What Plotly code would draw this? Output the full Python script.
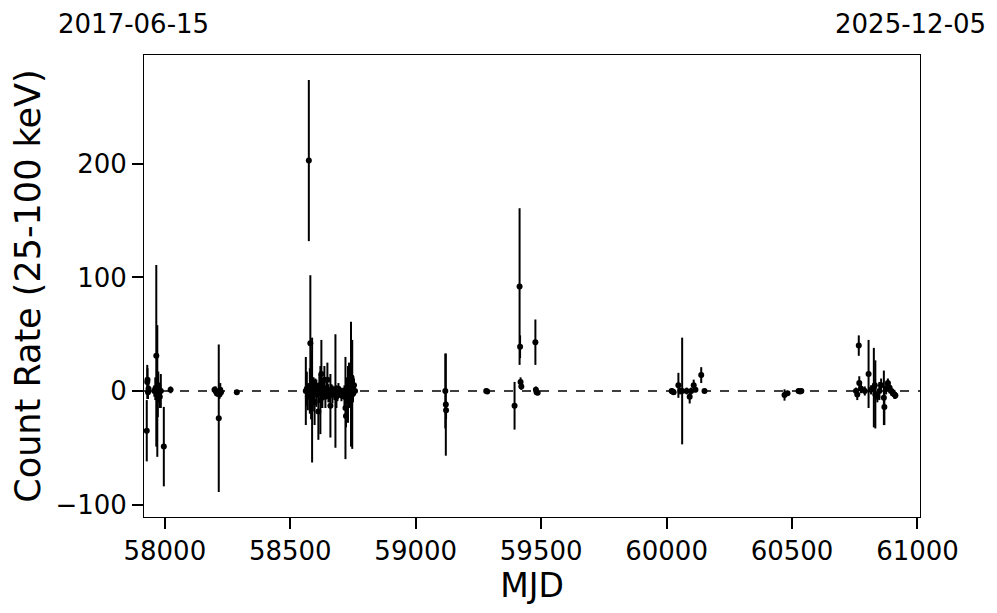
import plotly.graph_objects as go

# MJD of each observation, count rate (25-100 keV) and its 1-sigma error
mjd = [
    57928, 57930, 57931, 57933, 57935,
    57958, 57962, 57966, 57970, 57972, 57974, 57976, 57978, 57980, 57984, 57996, 58023,
    58198, 58203, 58207, 58215, 58218, 58221, 58224, 58287,
    58562, 58566, 58570, 58574, 58578, 58580, 58583, 58587, 58590, 58593,
    58597, 58600, 58604, 58608, 58612, 58616, 58620, 58624, 58628, 58632,
    58636, 58640, 58644, 58648, 58652, 58656, 58660, 58664, 58668, 58672,
    58676, 58680, 58684, 58688, 58692, 58696, 58700, 58704, 58708, 58712,
    58716, 58720, 58722, 58726, 58730, 58734, 58738, 58742, 58744, 58747,
    58750, 58754, 58758,
    59118, 59120, 59121, 59281, 59285,
    59394, 59414, 59416, 59418, 59421, 59477, 59479, 59482, 59486,
    60020, 60024, 60028, 60047, 60055, 60062, 60080, 60092, 60098, 60108,
    60115, 60138, 60151,
    60470, 60482, 60526, 60532, 60537,
    60755, 60760, 60766, 60768, 60775, 60790, 60805, 60815, 60826, 60830,
    60832, 60840, 60848, 60855, 60866, 60868, 60875, 60882, 60888, 60896,
    60902, 60908, 60912,
]
rate = [
    -35, 8, 10, -1, 2,
    0, 2, 31, 0, -3, 5, -2, 1, -5, 0, -49, 1,
    1, 0, -2, -24, -3, 1, -1, -1,
    0, 2, -5, 203, 0, 42, 5, -8, -3, 2,
    -10, 3, -2, 0, -18, 5, -8, 15, -3, 0,
    10, -5, 2, 10, -2, -4, -13, 1, -3, 0,
    -2, 0, -5, -3, 2, -1, 0, -4, -2, 0,
    -5, -15, -22, 0, -3, 5, 0, 6, 12, -3,
    0, 5, 0,
    0, -12, -17, 0, -0.5,
    -13, 92, 39, 8, 4, 43, 1, -1, -1.5,
    0, -0.5, -1, 5, 0, 0, 0, -5, 0, 5,
    1, 14, 0,
    -3.5, -2, 0, -0.5, 0,
    0, -3, 40, 7, 2, 0, 15, 1, 3, 5,
    -3, -5, 0, 5, -6, -14, 2, 7, 3, 0,
    -2, -3, -4,
]
err = [
    27, 15, 10, 6, 4,
    5, 10, 80, 58, 20, 12, 8, 5, 10, 15, 35, 3,
    3, 4, 3, 65, 4, 6, 3, 2,
    30, 15, 12, 71, 20, 60, 30, 55, 15, 10,
    20, 8, 12, 6, 25, 10, 30, 30, 12, 8,
    12, 10, 6, 15, 8, 6, 28, 5, 8, 4,
    6, 50, 10, 6, 5, 4, 3, 5, 4, 3,
    10, 45, 10, 12, 25, 20, 8, 55, 8, 48,
    10, 6, 4,
    33, 45, 8, 2, 2,
    21, 69, 10, 4, 3, 20, 3, 2, 2,
    2, 2, 2, 11, 3, 47, 3, 6, 3, 5,
    2, 7, 2,
    5, 2, 2, 2, 2,
    3, 5, 9, 6, 4, 4, 30, 4, 35, 5,
    30, 5, 8, 6, 24, 16, 5, 4, 5, 4,
    3, 4, 3,
]

x_ticks = [58000, 58500, 59000, 59500, 60000, 60500, 61000]
y_ticks = [-100, 0, 100, 200]
x_range = [57917, 61010]
y_range = [-111, 296]
fecha_inicio = "2017-06-15"
fecha_fin = "2025-12-05"

fuente = "DejaVu Sans"

fig = go.Figure()

fig.add_trace(go.Scatter(
    x=mjd,
    y=rate,
    mode="markers",
    marker=dict(color="black", size=6),
    error_y=dict(type="data", array=err, color="black", thickness=2, width=0),
    showlegend=False,
))

fig.add_hline(y=0, line=dict(color="black", width=1.5, dash="dash"))

fig.add_annotation(
    x=-0.112, y=1.067, xref="paper", yref="paper",
    text=fecha_inicio, showarrow=False, xanchor="left", yanchor="middle",
    font=dict(family=fuente, size=26, color="black"), borderpad=0,
)
fig.add_annotation(
    x=1.086, y=1.067, xref="paper", yref="paper",
    text=fecha_fin, showarrow=False, xanchor="right", yanchor="middle",
    font=dict(family=fuente, size=26, color="black"), borderpad=0,
)

# la página tiene ~8 px de margen en el body, se compensa aquí
fig.update_layout(
    width=997,
    height=613,
    margin=dict(l=136, r=85, t=47, b=104, autoexpand=False),
    plot_bgcolor="white",
    paper_bgcolor="white",
    font=dict(family=fuente, color="black"),
)

fig.update_xaxes(
    range=x_range,
    tickvals=x_ticks,
    ticktext=[str(v) for v in x_ticks],
    ticks="outside", ticklen=11, tickwidth=2, tickcolor="black",
    tickfont=dict(size=26),
    showgrid=False, zeroline=False, automargin=False,
    showline=True, linecolor="black", linewidth=1, mirror=True,
    title=dict(text="MJD", font=dict(size=33), standoff=4),
)
fig.update_yaxes(
    range=y_range,
    tickvals=y_ticks,
    ticktext=[str(v).replace("-", "\u2212") for v in y_ticks],
    ticks="outside", ticklen=11, tickwidth=2, tickcolor="black",
    tickfont=dict(size=26),
    showgrid=False, zeroline=False, automargin=False,
    showline=True, linecolor="black", linewidth=1, mirror=True,
    title=dict(text="Count Rate (25-100 keV)", font=dict(size=35), standoff=10),
)

fig.write_html("out.html")
